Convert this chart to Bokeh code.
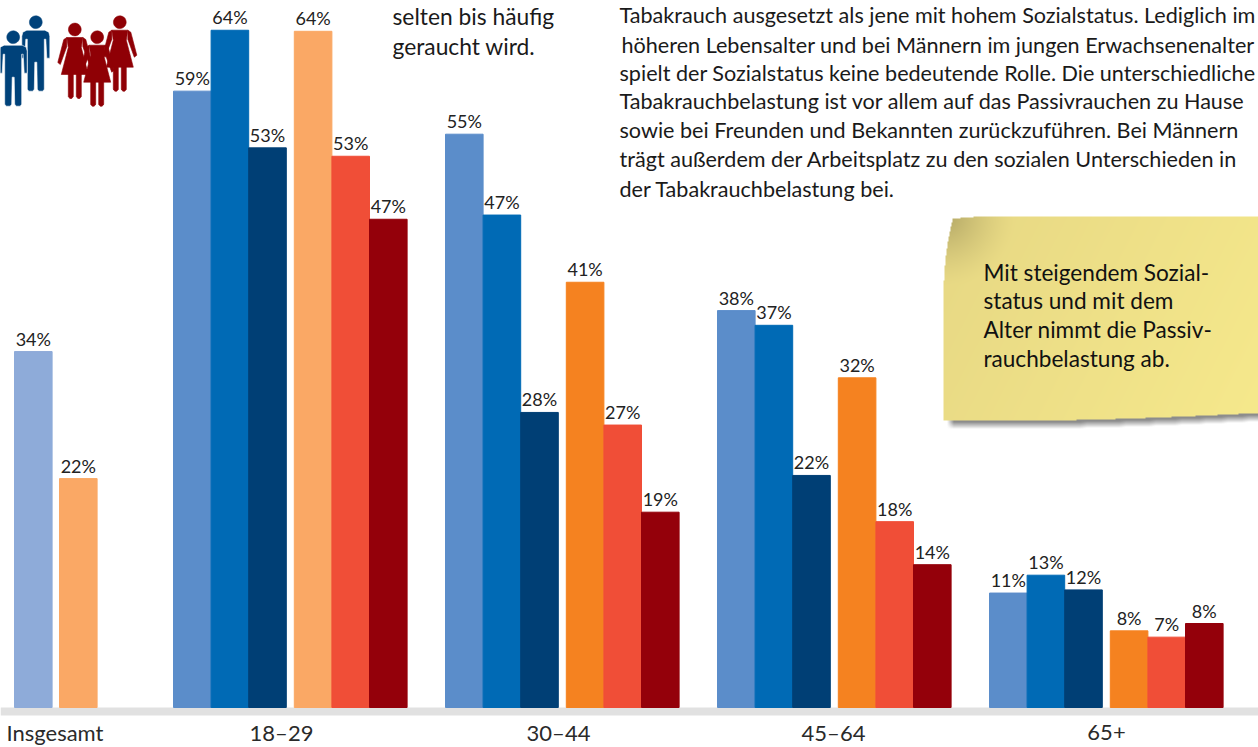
import numpy as np
from bokeh.plotting import figure
from bokeh.models import ColumnDataSource, Range1d
from bokeh.core.properties import value
from bokeh.embed import file_html
from bokeh.resources import INLINE

# ---- data ----
age_groups = ["18–29", "30–44", "45–64", "65+"]
overall_label = "Insgesamt"
overall_values = [33.9, 21.8]
overall_labels = ["34%", "22%"]
men_a = [58.7, 54.6, 37.8, 10.9]
men_b = [64.5, 46.9, 36.4, 12.6]
men_c = [53.3, 28.1, 22.1, 11.2]
women_a = [64.4, 40.5, 31.4, 7.3]
women_b = [52.5, 26.9, 17.7, 6.7]
women_c = [46.5, 18.6, 13.6, 8.0]
men_a_labels = ["59%", "55%", "38%", "11%"]
men_b_labels = ["64%", "47%", "37%", "13%"]
men_c_labels = ["53%", "28%", "22%", "12%"]
women_a_labels = ["64%", "41%", "32%", "8%"]
women_b_labels = ["53%", "27%", "18%", "7%"]
women_c_labels = ["47%", "19%", "14%", "8%"]
text_top = ["selten bis häufig", "geraucht wird."]
paragraph = [
    "Tabakrauch ausgesetzt als jene mit hohem Sozialstatus. Lediglich im",
    "höheren Lebensalter und bei Männern im jungen Erwachsenenalter",
    "spielt der Sozialstatus keine bedeutende Rolle. Die unterschiedliche",
    "Tabakrauchbelastung ist vor allem auf das Passivrauchen zu Hause",
    "sowie bei Freunden und Bekannten zurückzuführen. Bei Männern",
    "trägt außerdem der Arbeitsplatz zu den sozialen Unterschieden in",
    "der Tabakrauchbelastung bei.",
]
note_lines = ["Mit steigendem Sozial-", "status und mit dem", "Alter nimmt die Passiv-", "rauchbelastung ab."]

# ---- layout ----
PX = 10.5           # pixels per percentage point
BASE = 707          # baseline in page pixels
FONT = "Lato"
def py(y):
    return (BASE - np.asarray(y, dtype=float)) / PX

p = figure(width=1258, height=747, output_backend="svg", toolbar_location=None,
           x_range=Range1d(0, 1258), y_range=Range1d(py(747), py(0)),
           x_axis_location=None, y_axis_location=None,
           min_border_left=0, min_border_right=0, min_border_top=0, min_border_bottom=0,
           outline_line_color=None, background_fill_color="white", border_fill_color="white")
p.grid.visible = False

# ---- note with shadow (decorative raster) ----
nx0, nx1, ny0, ny1 = 935, 1258, 208, 436
xx, yy = np.meshgrid(np.arange(nx0, nx1) + .5, np.arange(ny0, ny1) + .5)
def note_mask(X, Y):
    t = np.clip((Y - 216) / 90, 0, 1)
    left = 943 + 10 * (1 - t) ** 2.4
    top = 216 + 2.5 * np.clip((985 - X) / 35, 0, 1) ** 1.5
    bottom = 420 - 7.5 * np.clip((X - 1040) / 218, 0, 1) ** 1.5
    return (X >= left) & (Y >= top) & (Y <= bottom)
mask = note_mask(xx, yy).astype(float)
shadow = note_mask(xx - 7, yy - 5).astype(float)
for axis in (0, 1):
    k = np.ones(7) / 7
    shadow = np.apply_along_axis(lambda r: np.convolve(np.pad(r, 3, mode="edge"), k, mode="valid"), axis, shadow)
g = np.clip(((xx - 943) / 315 * .75 + (yy - 216) / 205 * .25), 0, 1)[..., None]
rgb = np.array([231, 216, 132.]) * (1 - g) + np.array([246, 233, 140.]) * g
d = np.hypot(xx - 945, yy - 216)
shade = np.clip(1 - d / 70, 0, 1)[..., None] ** 1.4
rgb = rgb * (1 - shade * .22)
img = np.zeros(xx.shape + (4,), dtype=np.uint8)
sh_a = shadow * .62
alpha = mask + (1 - mask) * sh_a
col = (rgb * mask[..., None] + np.array([70, 70, 70.]) * ((1 - mask) * sh_a)[..., None]) / np.maximum(alpha, 1e-3)[..., None]
img[..., :3] = np.clip(col, 0, 255)
img[..., 3] = np.clip(alpha * 255, 0, 255)
packed = img.view(dtype=np.uint32).reshape(xx.shape)[::-1]
p.image_rgba(image=[packed], x=nx0, y=py(ny1), dw=nx1 - nx0, dh=(ny1 - ny0) / PX)

# ---- baseline band ----
p.quad(left=0, right=1258, bottom=py(715), top=0, fill_color="#e1e1e1", line_color=None)

# ---- bars ----
BW = 37.6
GROUP0, STEP, GAP = 173, 272, 8
xs, tops, cols, labs = [], [], [], []
men_cols = ["#5b8dca", "#006ab5", "#003f75"]
women_cols = ["#f58220", "#f04e37", "#94000a"]
for i in range(len(age_groups)):
    x0 = GROUP0 + STEP * i
    for j, (vals, ls) in enumerate([(men_a, men_a_labels), (men_b, men_b_labels), (men_c, men_c_labels)]):
        xs.append(x0 + BW * (j + .5)); tops.append(vals[i]); cols.append(men_cols[j]); labs.append(ls[i])
    for j, (vals, ls) in enumerate([(women_a, women_a_labels), (women_b, women_b_labels), (women_c, women_c_labels)]):
        c = "#faa865" if (i == 0 and j == 0) else women_cols[j]
        xs.append(x0 + 3 * BW + GAP + BW * (j + .5)); tops.append(vals[i]); cols.append(c); labs.append(ls[i])
xs += [14 + BW / 2, 59 + BW / 2]
tops += overall_values
cols += ["#8eabd9", "#faa865"]
labs += overall_labels
src = ColumnDataSource(dict(x=xs, top=tops, color=cols, label=labs))
p.vbar(x="x", top="top", bottom=0, width=BW, color="color", source=src)
p.text(x="x", y="top", text="label", source=src, text_align="center", text_baseline="bottom",
       y_offset=-2, text_font=value(FONT), text_font_size="18px", text_color="#222222")

# ---- category labels ----
p.text(x=[54.5, 281, 558, 833, 1106], y=py([732] * 5), text=[overall_label] + age_groups,
       text_align="center", text_baseline="middle", text_font=value(FONT),
       text_font_size="22px", text_color="#2a2a2a")

# ---- body text ----
def lines(x, ys, texts, size="21.6px", color="#1a1a1a"):
    p.text(x=x, y=py(ys), text=texts, text_align="left", text_baseline="middle",
           text_font=value(FONT), text_font_size=size, text_color=color)
lines([392] * 2, [15, 45], text_top, size="22.8px")
lines([619, 621, 619, 619, 619, 619, 619], [14, 44, 72, 100, 129, 158, 188], paragraph)
lines([983] * 4, [272, 300, 329, 358], note_lines, size="22.6px", color="#111111")

# ---- people icons (decorative) ----
man = [(-9,8),(9,8),(13,10),(14,14),(14,36),(11,36),(10,17),(8.5,17),(8.5,67),(7,69),(3,69),(1.5,67),(1,40),
       (-1,40),(-1.5,67),(-3,69),(-7,69),(-8.5,67),(-8.5,17),(-10,17),(-11,36),(-14,36),(-14,14),(-13,10)]
dress = [(-8,8),(8,8),(6.5,18),(13.5,45),(-13.5,45),(-6.5,18)]
arm = [(8,8),(11,10),(17,33),(14.5,35),(8,17)]
leg = [(-6.5,44),(-1.5,44),(-1.5,67),(-3,69),(-5,69),(-6.5,67)]
def person(cx, cy, color, kind):
    if kind == "m":
        polys = [man]
    else:
        polys = [[(-x, y) for x, y in leg], leg, arm, [(-x, y) for x, y in arm], dress]
    for poly in polys:
        p.patch([cx + a for a, b in poly], py([cy + b for a, b in poly]), fill_color=color,
                line_color="white" if kind == "m" else color, line_width=.6)
    t = np.linspace(0, 2 * np.pi, 30)
    p.patch(cx + 6.4 * np.cos(t), py(cy + 6.4 * np.sin(t)), fill_color=color, line_color=color, line_width=.5)
person(35.3, 21.7, "#00427a", "m")
person(12.7, 36.7, "#00427a", "m")
person(119.3, 21.7, "#8f0005", "w")
person(74.3, 29, "#8f0005", "w")
person(96.7, 36.7, "#8f0005", "w")

open("out.html", "w").write(file_html(p, INLINE))
